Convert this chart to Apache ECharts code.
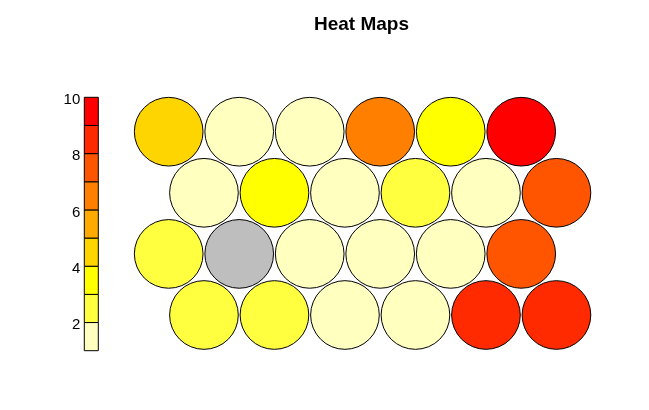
<!DOCTYPE html>
<html><head><meta charset="utf-8">
<script src="https://cdn.jsdelivr.net/npm/echarts@6/dist/echarts.min.js"></script>
<style>html,body{margin:0;padding:0;background:#fff}#c{width:649px;height:410px}</style>
</head><body><div id="c"></div>
<script>
// Node values per row (row 4 = top, row 1 = bottom), left to right; null = empty node
const row4 = [4.6, 1.3, 1.4, 6.5, 3.5, 9.6];
const row3 = [1.2, 3.3, 1.5, 2.6, 1.1, 7.5];
const row2 = [2.5, null, 1.6, 1.2, 1.3, 7.3];
const row1 = [2.4, 2.7, 1.0, 1.4, 8.5, 8.6];
// Hex offsets per row
const rowOffsets = {1: 0.5, 2: 0, 3: 0.5, 4: 0};
// Colour scale breaks and palette (heat colours, low to high)
const breaks = [1, 2, 3, 4, 5, 6, 7, 8, 9, 10];
const palette = ['#FFFFBF', '#FFFF40', '#FFFF00', '#FFD500', '#FFAA00', '#FF8000', '#FF5500', '#FF2A00', '#FF0000'];
const naColor = '#BEBEBE';
const legendTicks = [2, 4, 6, 8, 10];

function colorOf(v) {
  if (v == null) return naColor;
  for (let i = 0; i < palette.length; i++) {
    if (v >= breaks[i] && v <= breaks[i + 1]) return palette[i];
  }
  return naColor;
}

const rows = {1: row1, 2: row2, 3: row3, 4: row4};
const nodes = [];
for (const r of [1, 2, 3, 4]) {
  rows[r].forEach((v, i) => nodes.push([i + 1 + rowOffsets[r], r, v]));
}
const bins = palette.map((c, i) => [breaks[i], breaks[i + 1], i]);

const chart = echarts.init(document.getElementById('c'));
chart.setOption({
  animation: false,
  backgroundColor: '#fff',
  title: {
    text: 'Heat Maps', left: 314, top: 15.5, padding: 0,
    textStyle: {fontFamily: 'Liberation Sans, Arial', fontWeight: 'bold', fontSize: 19, color: '#000'}
  },
  grid: [
    {left: 133.45, top: 101.15, width: 458.25, height: 244.4},
    {left: 84.3, top: 97.3, width: 14, height: 253.4}
  ],
  xAxis: [
    {gridIndex: 0, type: 'value', min: 0.5, max: 7, show: false},
    {gridIndex: 1, type: 'value', min: 0, max: 1, show: false}
  ],
  yAxis: [
    {gridIndex: 0, type: 'value', min: 0.5, max: 4.5, show: false},
    {gridIndex: 1, type: 'value', min: 1, max: 10, interval: 1,
     axisLine: {show: false}, axisTick: {show: false}, splitLine: {show: false},
     axisLabel: {margin: 4, color: '#000', fontSize: 15, fontFamily: 'Liberation Sans, Arial',
       verticalAlign: 'top', lineHeight: 5,
       formatter: v => legendTicks.includes(v) ? String(v) : ''}}
  ],
  series: [
    {
      type: 'custom', xAxisIndex: 0, yAxisIndex: 0, data: nodes,
      renderItem: (params, api) => {
        const p = api.coord([api.value(0), api.value(1)]);
        const r = api.size([0.487, 0])[0];
        const v = nodes[params.dataIndex][2];
        return {type: 'circle', shape: {cx: p[0], cy: p[1], r: r},
          style: {fill: colorOf(v), stroke: '#000', lineWidth: 1}};
      }
    },
    {
      type: 'custom', xAxisIndex: 1, yAxisIndex: 1, data: bins,
      renderItem: (params, api) => {
        const a = api.coord([0, api.value(0)]);
        const b = api.coord([1, api.value(1)]);
        return {type: 'rect', shape: {x: a[0], y: b[1], width: b[0] - a[0], height: a[1] - b[1]},
          style: {fill: palette[api.value(2)], stroke: '#000', lineWidth: 1}};
      }
    }
  ]
});
</script></body></html>
